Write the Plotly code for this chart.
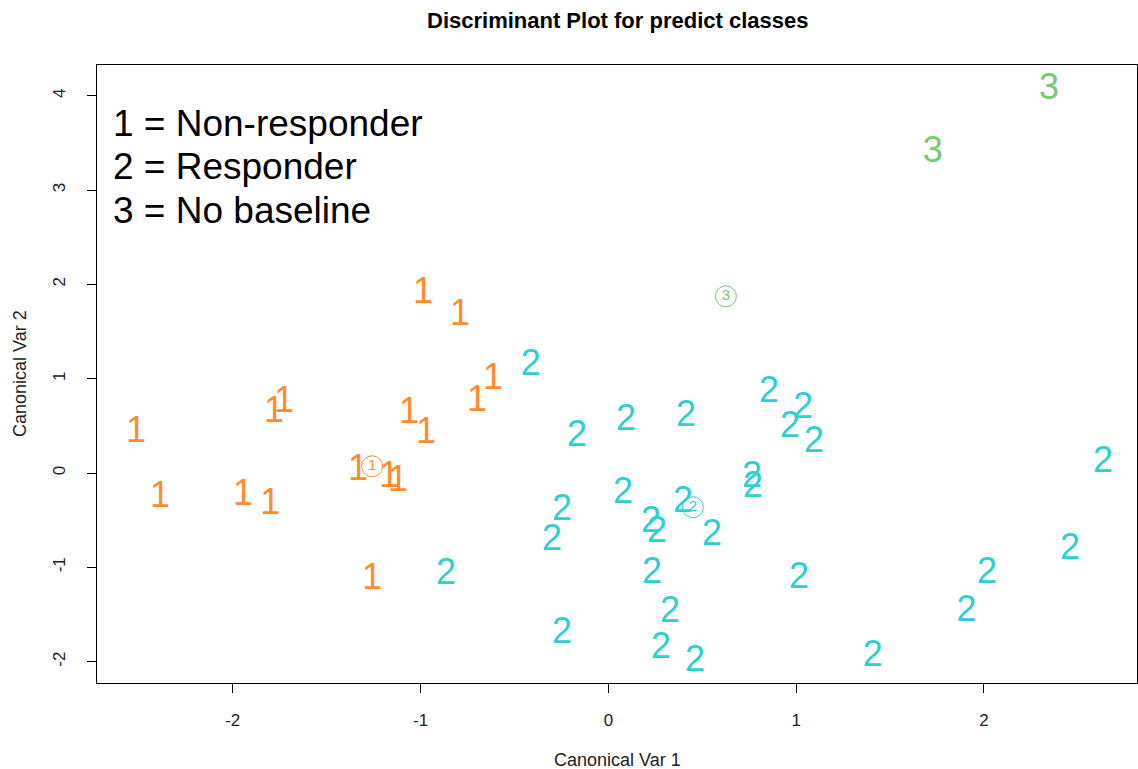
import plotly.graph_objects as go

# ---- data ----
class1_x = [-2.515, -2.387, -1.945, -1.801, -1.780, -1.727, -1.333, -1.168, -1.120,
            -1.061, -0.971, -0.987, -0.790, -0.700, -0.614, -1.258]
class1_y = [0.421, -0.268, -0.247, -0.342, 0.633, 0.739, 0.018, -0.056, -0.098,
            0.622, 0.410, 1.895, 1.662, 0.750, 0.983, -1.138]

class2_x = [-0.413, -0.167, 0.094, 0.413, 0.855, 1.036, 0.967, 1.095, 2.634, 0.765,
            0.770, 0.078, -0.247, -0.300, 0.227, 0.259, 0.397, 0.552, -0.864, 0.232,
            1.015, 2.016, 2.458, 1.907, 0.328, -0.247, 0.280, 0.461, 1.408]
class2_y = [1.132, 0.379, 0.549, 0.591, 0.846, 0.676, 0.474, 0.315, 0.103, -0.056,
            -0.162, -0.226, -0.406, -0.724, -0.533, -0.639, -0.321, -0.671, -1.085, -1.074,
            -1.127, -1.074, -0.820, -1.477, -1.487, -1.710, -1.869, -2.007, -1.954]

class3_x = [2.346, 1.728]
class3_y = [4.058, 3.391]

centroid_x = [-1.258, 0.450, 0.626]
centroid_y = [0.071, -0.363, 1.874]

class_labels = ["1", "2", "3"]
class_names = ["1 = Non-responder", "2 = Responder", "3 = No baseline"]
colors = ["#FF8C2E", "#2DCFCF", "#79C874"]

x_ticks = [-2, -1, 0, 1, 2]
y_ticks = [-2, -1, 0, 1, 2, 3, 4]

FONT = "Liberation Sans, Arial, sans-serif"

fig = go.Figure()

for xs, ys, lab, col in zip([class1_x, class2_x, class3_x],
                            [class1_y, class2_y, class3_y],
                            class_labels, colors):
    fig.add_trace(go.Scatter(
        x=xs, y=ys, mode="text", text=[lab] * len(xs),
        textposition="middle center",
        textfont=dict(family=FONT, size=36, color=col),
        showlegend=False, hoverinfo="x+y"))

# group centroids: small circled labels
for cx, cy, lab, col in zip(centroid_x, centroid_y, class_labels, colors):
    fig.add_trace(go.Scatter(
        x=[cx], y=[cy], mode="markers+text", text=[lab],
        textposition="middle center",
        textfont=dict(family=FONT, size=15, color=col),
        marker=dict(symbol="circle-open", size=21, color=col, line=dict(width=1, color=col)),
        showlegend=False, hoverinfo="x+y"))

annotations = []
for i, name in enumerate(class_names):
    annotations.append(dict(
        text=name, xref="paper", yref="paper",
        x=0.0135, y=[0.906, 0.835, 0.764][i], xanchor="left", yanchor="middle",
        showarrow=False, font=dict(family=FONT, size=37, color="black")))

annotations.append(dict(
    text="Canonical Var 1", xref="paper", yref="paper", x=0.5, y=-0.1246,
    xanchor="center", yanchor="middle", showarrow=False,
    font=dict(family=FONT, size=18, color="#222222")))
annotations.append(dict(
    text="Canonical Var 2", xref="paper", yref="paper", x=-0.074, y=0.5,
    xanchor="center", yanchor="middle", textangle=-90, showarrow=False,
    font=dict(family=FONT, size=18, color="#222222")))
annotations.append(dict(
    text="<b>Discriminant Plot for predict classes</b>", xref="paper", yref="paper",
    x=0.5, y=1.0728, xanchor="center", yanchor="middle", showarrow=False,
    font=dict(family=FONT, size=22, color="black")))

fig.update_layout(
    width=1138, height=769,
    margin=dict(l=97, r=1, t=65, b=86),
    paper_bgcolor="white", plot_bgcolor="white",
    annotations=annotations,
    xaxis=dict(range=[-2.723, 2.815], tickvals=x_ticks, ticktext=[str(v) for v in x_ticks],
               showgrid=False, zeroline=False, showline=True, mirror=True,
               linecolor="black", linewidth=1, ticks="outside", ticklen=9,
               tickcolor="black", tickfont=dict(family=FONT, size=17, color="#222222"),
               ticklabelstandoff=13),
    yaxis=dict(range=[-2.227, 4.327], tickvals=y_ticks, ticktext=[str(v) for v in y_ticks],
               showgrid=False, zeroline=False, showline=True, mirror=True,
               linecolor="black", linewidth=1, ticks="outside", ticklen=9,
               tickcolor="black", tickangle=-90,
               tickfont=dict(family=FONT, size=17, color="#222222"),
               ticklabelstandoff=15),
)

fig.write_html("out.html")
